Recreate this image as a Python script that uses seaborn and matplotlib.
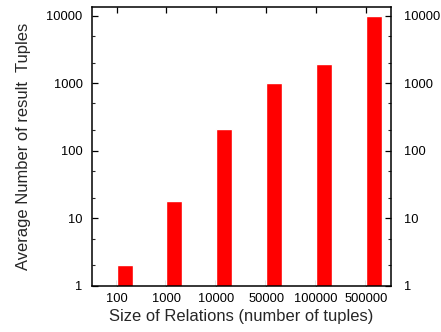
import numpy as np
import matplotlib
matplotlib.use('Agg')
import matplotlib.pyplot as plt
import matplotlib.ticker as mticker
import seaborn as sns

# data
sizes = ['100', '1000', '10000', '50000', '100000', '500000']
avg_tuples = [2, 18, 210, 1000, 1900, 10000]
y_ticks = [1, 10, 100, 1000, 10000]

sns.set_style('ticks')
plt.rcParams['font.family'] = ['Liberation Sans', 'DejaVu Sans']
plt.rcParams['xtick.direction'] = 'in'
plt.rcParams['ytick.direction'] = 'in'

fig = plt.figure(figsize=(4.41, 3.32), dpi=100)
ax = fig.add_axes([0.208, 0.1395, 0.678, 0.8385])

sns.barplot(x=sizes, y=avg_tuples, color='#ff0000', width=0.32,
            saturation=1, ax=ax, errorbar=None)
ax.set_yscale('log')
ax.set_ylim(1, 13300)
ax.set_xlim(-0.66, 5.34)

# gnuplot-style: labels sit left of the bar centre
ax.set_xticks(np.arange(len(sizes)) - 0.16)
ax.set_xticklabels(sizes)

ax.yaxis.set_major_locator(mticker.FixedLocator(y_ticks))
ax.yaxis.set_major_formatter(mticker.FixedFormatter([str(v) for v in y_ticks]))
ax.yaxis.set_minor_locator(mticker.LogLocator(base=10, subs=(2, 5)))
ax.yaxis.set_minor_formatter(mticker.NullFormatter())

ax.tick_params(axis='both', which='major', labelsize=9.3, length=4, width=0.9,
               color='black', labelcolor='black', top=True, right=True, pad=5)
ax.tick_params(axis='y', which='minor', length=2.5, width=0.8, right=True)
ax.tick_params(axis='y', pad=6.5)

# right-hand copy of the y labels
sec = ax.secondary_yaxis('right')
sec.yaxis.set_major_locator(mticker.FixedLocator(y_ticks))
sec.yaxis.set_major_formatter(mticker.FixedFormatter([str(v) for v in y_ticks]))
sec.yaxis.set_minor_locator(mticker.NullLocator())
sec.tick_params(axis='y', length=0, labelsize=9.3, pad=9.5, labelcolor='black')
sec.spines['right'].set_visible(False)

for s in ax.spines.values():
    s.set_color('black')
    s.set_linewidth(1.1)

ax.set_xlabel('Size of Relations (number of tuples)', fontsize=11.9, labelpad=3)
ax.set_ylabel('Average Number of result  Tuples', fontsize=11.9, labelpad=11)

fig.savefig('out.png', dpi=100)
